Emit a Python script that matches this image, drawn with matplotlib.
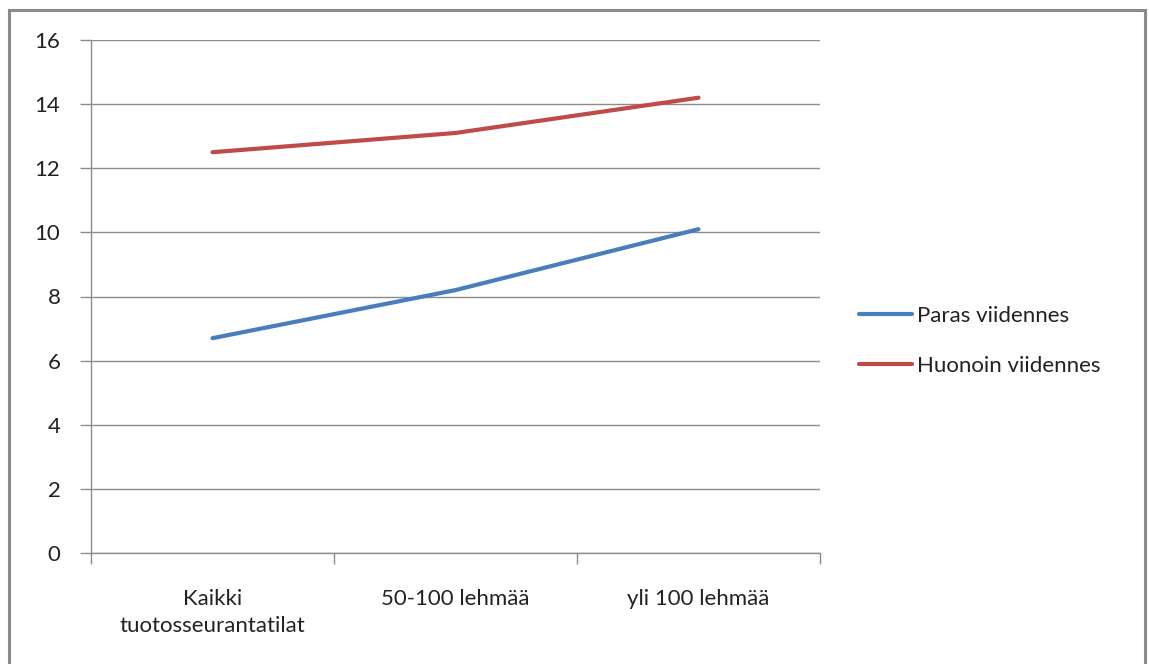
import matplotlib.pyplot as plt
from matplotlib.patches import Rectangle

categories = ['Kaikki\ntuotosseurantatilat', '50-100 lehmää', 'yli 100 lehmää']
paras = [6.7, 8.2, 10.1]
huonoin = [12.5, 13.1, 14.2]
yticks = [0, 2, 4, 6, 8, 10, 12, 14, 16]

plt.rcParams['font.family'] = ['Lato', 'DejaVu Sans']
grey = '#8c8c8c'
txt = '#222222'
fs = 16

fig = plt.figure(figsize=(11.49, 6.64), dpi=100)
ax = fig.add_axes([91 / 1149, 111 / 664, 729 / 1149, 513 / 664])

x = list(range(len(categories)))
ax.plot(x, paras, color='#4a7ebb', lw=3, solid_capstyle='round', label='Paras viidennes')
ax.plot(x, huonoin, color='#be4b48', lw=3, solid_capstyle='round', label='Huonoin viidennes')

ax.set_xlim(-0.5, 2.5)
ax.set_ylim(0, 16)
ax.set_yticks(yticks)
ax.set_yticklabels([str(v) for v in yticks])
ax.yaxis.grid(True, color=grey, lw=1)
ax.set_axisbelow(True)

# categories sit between the tick marks
ax.set_xticks([-0.5, 0.5, 1.5, 2.5])
ax.set_xticklabels([])
ax.set_xticks(x, minor=True)
ax.set_xticklabels(categories, minor=True, fontsize=fs, color=txt, va='top', linespacing=1.45)
ax.tick_params(axis='x', which='minor', length=0, pad=26)
ax.tick_params(axis='x', which='major', length=8, color=grey, width=1)
ax.tick_params(axis='y', length=8, color=grey, width=1, labelsize=fs, labelcolor=txt, pad=14)

for s in ['top', 'right']:
    ax.spines[s].set_visible(False)
for s in ['left', 'bottom']:
    ax.spines[s].set_color(grey)
    ax.spines[s].set_linewidth(1)

fig.legend(loc='center left', bbox_to_anchor=(839 / 1149, 1 - 341 / 664), frameon=False,
           fontsize=fs, labelcolor=txt, handlelength=2.4, handletextpad=0.2,
           labelspacing=1.35)

# chart area frame
fig.patches.append(Rectangle((9 / 1149, -0.1), 1136 / 1149, 1.1 - 9.5 / 664,
                             transform=fig.transFigure, fill=False,
                             edgecolor='#8a8a8a', lw=2.2))

fig.savefig('out.png', dpi=100)
